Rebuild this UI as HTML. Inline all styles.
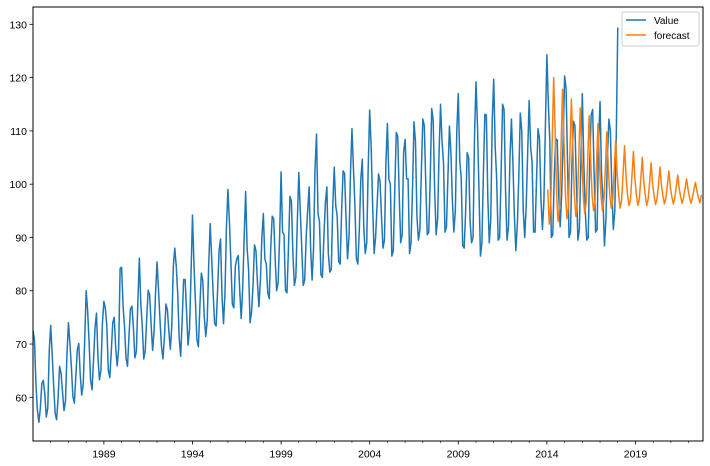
<!DOCTYPE html>
<html><head><meta charset="utf-8"><style>
body{margin:0;background:#fff;}
svg{display:block;font-family:"Liberation Sans","DejaVu Sans",sans-serif;}
</style></head><body>
<svg id="chart" width="710" height="466" viewBox="0 0 710 466">
<g id="grid"></g>
<g id="series"></g>
<rect x="33" y="7" width="670" height="434" fill="none" stroke="#000" stroke-width="1"/>
<g>
<rect x="622" y="12" width="77" height="34" rx="2" fill="#fff" fill-opacity="0.8" stroke="#ccc"/>
<line x1="626" y1="20" x2="646" y2="20" stroke="#1f77b4" stroke-width="1.5"/>
<text x="654" y="24" font-size="10" fill="#000">Value</text>
<line x1="626" y1="35" x2="646" y2="35" stroke="#ff7f0e" stroke-width="1.5"/>
<text x="654" y="39" font-size="10" fill="#000">forecast</text>
</g>
</svg>
<script>
const startYear = 1985;
const valueSeries = [
72.5,70.7,62.5,57.5,55.3,58.1,62.6,63.2,60.6,56.3,58.0,68.7,
73.5,68.0,62.2,57.0,55.8,59.9,65.8,64.5,61.0,57.5,59.3,68.1,
74.0,70.1,65.6,60.2,58.9,63.9,68.9,70.1,64.1,60.4,62.5,70.6,
80.0,76.2,70.3,63.2,61.4,67.1,73.0,75.8,67.5,63.3,65.1,73.9,
78.0,76.7,73.4,65.1,63.7,68.5,74.0,75.0,69.3,65.9,69.1,84.2,
84.4,77.2,73.2,67.3,65.8,71.5,76.6,77.1,73.1,67.4,68.6,77.7,
86.1,77.6,73.4,67.2,68.8,74.8,80.1,79.2,73.6,68.8,72.5,79.5,
85.4,80.2,74.5,69.6,67.2,71.2,77.5,76.5,72.4,69.0,73.5,84.5,
88.0,84.6,79.5,71.1,67.7,74.3,82.1,82.1,76.0,69.8,72.8,82.9,
94.2,85.0,78.0,70.8,69.5,77.0,83.3,81.8,75.0,71.4,74.5,85.0,
92.6,86.0,79.5,73.8,73.4,80.0,87.5,89.7,79.0,73.8,79.5,92.0,
99.0,93.0,85.5,77.5,76.8,84.5,86.0,86.6,80.0,74.8,80.5,90.0,
98.6,88.0,84.0,74.0,76.0,81.0,88.6,87.5,81.5,77.0,82.0,90.0,
94.5,86.0,85.0,79.6,78.5,88.0,94.0,93.5,86.0,80.0,81.5,90.0,
102.3,91.0,90.5,80.0,79.6,88.0,97.7,96.8,87.0,81.0,82.5,93.0,
102.2,95.0,88.0,81.0,82.0,90.0,95.0,99.5,88.0,82.0,88.0,103.0,
109.4,94.5,93.0,83.0,82.5,90.0,96.5,99.5,87.0,83.5,84.0,96.0,
103.2,96.0,94.0,85.5,85.0,95.0,102.5,102.0,93.5,86.0,90.0,102.0,
110.4,103.0,96.0,86.0,85.0,91.5,101.0,104.7,92.0,87.0,89.0,103.0,
113.9,107.0,96.0,87.0,90.0,96.0,101.9,100.5,94.0,88.0,89.5,104.0,
111.4,101.0,100.0,86.5,87.5,99.0,109.7,109.0,98.0,89.0,90.5,106.0,
108.4,101.0,101.0,87.0,89.0,99.0,111.7,108.0,94.0,89.5,91.5,102.5,
112.2,111.0,100.0,90.5,91.0,101.0,114.2,112.0,99.0,90.5,93.5,106.0,
115.0,108.0,104.0,91.0,92.0,101.5,110.9,106.0,97.0,91.0,95.0,110.0,
117.0,104.5,101.0,88.5,88.0,95.0,105.9,105.0,93.0,89.0,90.0,109.0,
119.2,111.0,99.0,86.5,89.0,102.0,113.1,113.0,97.5,89.0,93.5,112.0,
119.7,107.0,101.0,89.5,90.0,102.0,115.0,114.0,99.0,89.5,92.0,105.0,
112.2,104.0,94.0,87.5,92.5,101.5,113.3,110.0,95.0,90.0,96.0,106.0,
115.7,107.0,104.0,91.0,91.0,101.0,110.4,108.5,97.0,91.5,97.0,111.0,
124.3,115.0,108.0,90.0,90.5,101.5,108.5,108.3,98.0,92.0,98.0,108.0,
120.3,118.0,104.0,90.0,91.0,104.0,111.8,111.0,100.0,89.5,91.5,104.0,
117.0,104.0,95.0,89.5,90.0,104.0,113.0,114.0,102.0,91.0,91.5,108.0,
115.5,102.0,97.0,88.4,93.5,105.0,112.2,110.0,99.0,91.5,95.0,109.0,
129.4];
const forecastStartYear = 2014.05;
const forecastSeries = [
99,
92.5,96,108,120,110,98,
93,96,107,117.8,108,98,
93.5,96,106,116,107,98,
94,96.5,105,114.3,106,98,
94.5,96.5,104,112.8,105,98,
95,97,103.5,111.3,104,98,
95,97,103,109.8,103,98,
95.5,97,102.5,108.3,102,98,
95.5,97,102,107.2,101.5,98,
96,97,101.5,106.1,101,98,
96,97.2,101,105,100.5,98,
96,97.2,100.5,104,100,97.8,
96.2,97.3,100,103.2,99.8,97.8,
96.3,97.4,99.8,102.5,99.5,97.7,
96.3,97.4,99.5,101.7,99.2,97.6,
96.4,97.5,99.2,101,99,97.5,
96.4,97.5,99,100.3,98.8,97.4,
96.5,98];
const yTicks = [60,70,80,90,100,110,120,130];
const xTickYears = [1989,1994,1999,2004,2009,2014,2019];

const NS = "http://www.w3.org/2000/svg";
const L=33,R=703,T=7,B=441;
const X0=1985, X1=1985+(R-L)/17.72;
const Y0=51.8, Y1=133.25;
function xs(yr){return L+(yr-X0)/(X1-X0)*(R-L);}
function ys(v){return B-(v-Y0)/(Y1-Y0)*(B-T);}
function mk(tag,attrs,parent){const e=document.createElementNS(NS,tag);for(const k in attrs)e.setAttribute(k,attrs[k]);parent.appendChild(e);return e;}
const grid=document.getElementById('grid');
const series=document.getElementById('series');

yTicks.forEach(v=>{
  const y=ys(v);
  const t=mk('line',{x1:L-3.5,x2:L,y1:y,y2:y,stroke:'#000','stroke-width':0.8},grid);
  
  
  const lb=mk('text',{x:L-6,y:y+4,'text-anchor':'end','font-size':10.5,fill:'#000'},grid);
  lb.textContent=v;
  
  
});
for(let yr=1986; yr<=2022; yr++){
  const x=xs(yr);
  const major=xTickYears.indexOf(yr)>=0;
  const t=mk('line',{x1:x,x2:x,y1:B,y2:B+(major?3.5:2),stroke:'#000','stroke-width':major?0.8:0.6},grid);
  
  
}
xTickYears.forEach(yr=>{
  const lb=mk('text',{x:xs(yr),y:457.5,'text-anchor':'middle','font-size':10.5,fill:'#000'},grid);
  lb.textContent=yr;
  
  
});

const vp=valueSeries.map((v,i)=>xs(startYear+i/12).toFixed(2)+','+ys(v).toFixed(2)).join(' ');
const l1=mk('polyline',{points:vp,fill:'none',stroke:'#1f77b4','stroke-width':1.5,'stroke-linejoin':'round'},series);


const fp=forecastSeries.map((v,i)=>xs(forecastStartYear+i/12).toFixed(2)+','+ys(v).toFixed(2)).join(' ');
const l2=mk('polyline',{points:fp,fill:'none',stroke:'#ff7f0e','stroke-width':1.5,'stroke-linejoin':'round'},series);


</script>
</body></html>
